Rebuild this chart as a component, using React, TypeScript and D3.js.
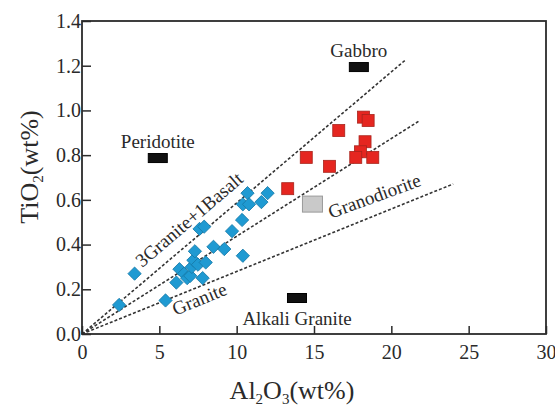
import { useEffect, useRef } from "react";
import * as d3 from "d3";

const W = 555;
const H = 406;

const xTicks = [0, 5, 10, 15, 20, 25, 30];
const yTicks = [0, 0.2, 0.4, 0.6, 0.8, 1.0, 1.2, 1.4];

// blue diamonds (Al2O3, TiO2)
const blueX = [2.4, 3.4, 5.4, 6.1, 6.3, 6.6, 6.8, 7.0, 7.1, 7.2, 7.3, 7.5, 7.8, 7.6, 7.9, 8.0, 8.5, 9.2, 9.7, 10.4, 10.35, 10.4, 10.7, 10.8, 11.6, 12.0];
const blueY = [0.13, 0.27, 0.15, 0.23, 0.29, 0.27, 0.25, 0.26, 0.30, 0.33, 0.37, 0.31, 0.25, 0.47, 0.48, 0.32, 0.39, 0.38, 0.46, 0.35, 0.51, 0.58, 0.63, 0.58, 0.59, 0.63];

// red squares
const redX = [13.3, 14.5, 16.0, 16.6, 18.2, 18.5, 18.3, 18.0, 17.7, 18.8];
const redY = [0.65, 0.79, 0.75, 0.91, 0.97, 0.955, 0.86, 0.815, 0.79, 0.79];

// reference rock compositions
const refNames = ["Peridotite", "Gabbro", "Granodiorite", "Alkali Granite"];
const refX = [4.9, 17.9, 14.9, 13.9];
const refY = [0.787, 1.194, 0.581, 0.161];

// mixing lines from origin
const lineEndX = [20.9, 21.8, 24.0];
const lineEndY = [1.225, 0.953, 0.671];

export default function App() {
  const ref = useRef<SVGSVGElement | null>(null);

  useEffect(() => {
    if (!ref.current) return;
    const svg = d3.select(ref.current);
    svg.selectAll("*").remove();

    const margin = { left: 82, right: 9, top: 21, bottom: 72 };
    const x = d3.scaleLinear().domain([0, 30]).range([margin.left, W - margin.right]);
    const y = d3.scaleLinear().domain([0, 1.4]).range([H - margin.bottom, margin.top]);
    const font = "'Liberation Serif', 'Times New Roman', serif";
    const ink = "#2b2b2b";
    const txt = "#2a2a2a";

    // mixing lines
    lineEndX.forEach((ex, i) => {
      svg
        .append("line")
        .attr("x1", x(0))
        .attr("y1", y(0))
        .attr("x2", x(ex))
        .attr("y2", y(lineEndY[i]))
        .attr("stroke", "#333")
        .attr("stroke-width", 1.6)
        .attr("stroke-dasharray", "3,2");
    });

    // axes with inward ticks
    const xAxis = svg
      .append("g")
      .attr("transform", `translate(0,${y(0)})`)
      .call(d3.axisBottom(x).tickValues(xTicks).tickSize(-8).tickPadding(11).tickFormat(d3.format("d")));
    const yAxis = svg
      .append("g")
      .attr("transform", `translate(${x(0)},0)`)
      .call(d3.axisLeft(y).tickValues(yTicks).tickSize(-9).tickPadding(1).tickFormat(d3.format(".1f")));
    [xAxis, yAxis].forEach((g) => {
      g.attr("font-family", null).attr("font-size", null);
      g.select(".domain").remove();
      g.selectAll("line").attr("stroke", ink).attr("stroke-width", 1.5);
      g.selectAll("text")
        .style("font-family", font)
        .style("font-size", "20px")
        .attr("fill", txt);
    });

    // frame
    svg
      .append("rect")
      .attr("x", x(0))
      .attr("y", y(1.4))
      .attr("width", x(30) - x(0))
      .attr("height", y(0) - y(1.4))
      .attr("fill", "none")
      .attr("stroke", ink)
      .attr("stroke-width", 1.8);

    // reference boxes
    const boxW = [19, 19, 20, 19];
    const boxH = [9, 9, 16, 9];
    refNames.forEach((n, i) => {
      const gray = n === "Granodiorite";
      svg
        .append("rect")
        .attr("x", x(refX[i]) - boxW[i] / 2)
        .attr("y", y(refY[i]) - boxH[i] / 2)
        .attr("width", boxW[i])
        .attr("height", boxH[i])
        .attr("fill", gray ? "#c9c9c9" : "#111")
        .attr("stroke", gray ? "#9a9a9a" : "#000")
        .attr("stroke-width", 1);
    });

    // blue diamonds
    svg
      .append("g")
      .selectAll("path")
      .data(blueX.map((v, i) => [v, blueY[i]]))
      .join("path")
      .attr("transform", (d) => `translate(${x(d[0])},${y(d[1])}) rotate(45)`)
      .attr("d", d3.symbol().type(d3.symbolSquare).size(88)())
      .attr("fill", "#1f9ad2")
      .attr("stroke", "#177aa8")
      .attr("stroke-width", 0.8);

    // red squares
    svg
      .append("g")
      .selectAll("rect")
      .data(redX.map((v, i) => [v, redY[i]]))
      .join("rect")
      .attr("x", (d) => x(d[0]) - 6)
      .attr("y", (d) => y(d[1]) - 6)
      .attr("width", 12)
      .attr("height", 12)
      .attr("fill", "#e52620")
      .attr("stroke", "#a8241c")
      .attr("stroke-width", 0.8);

    // labels
    const label = (t: string, lx: number, ly: number, rot = 0) =>
      svg
        .append("text")
        .attr("transform", `translate(${lx},${ly}) rotate(${rot})`)
        .attr("text-anchor", "middle")
        .style("font-family", font)
        .style("font-size", "19px")
        .attr("fill", txt)
        .text(t);
    label("Gabbro", x(17.9), y(1.194) - 10);
    label("Peridotite", x(4.9), y(0.787) - 10);
    label("Alkali Granite", x(13.9), y(0.161) + 27);
    label("Granodiorite", x(19.05), y(0.59), -20);
    label("Granite", x(7.75), y(0.13), -22.5);
    label("3Granite+1Basalt", x(7.2), y(0.49), -40.5);

    // axis titles
    const xt = svg
      .append("text")
      .attr("x", 292)
      .attr("y", 399)
      .attr("text-anchor", "middle")
      .style("font-family", font)
      .style("font-size", "26px")
      .attr("fill", txt);
    xt.append("tspan").text("Al");
    xt.append("tspan").style("font-size", "15px").attr("dy", 5).text("2");
    xt.append("tspan").attr("dy", -5).text("O");
    xt.append("tspan").style("font-size", "15px").attr("dy", 5).text("3");
    xt.append("tspan").attr("dy", -5).text("(wt%)");

    const yt = svg
      .append("text")
      .attr("transform", `translate(38,167) rotate(-90)`)
      .attr("text-anchor", "middle")
      .style("font-family", font)
      .style("font-size", "26px")
      .attr("fill", txt);
    yt.append("tspan").text("TiO");
    yt.append("tspan").style("font-size", "15px").attr("dy", 5).text("2");
    yt.append("tspan").attr("dy", -5).text("(wt%)");
  }, []);

  return (
    <svg
      ref={ref}
      width={W}
      height={H}
      style={{ position: "absolute", left: 0, top: 0, background: "#fff" }}
    />
  );
}
